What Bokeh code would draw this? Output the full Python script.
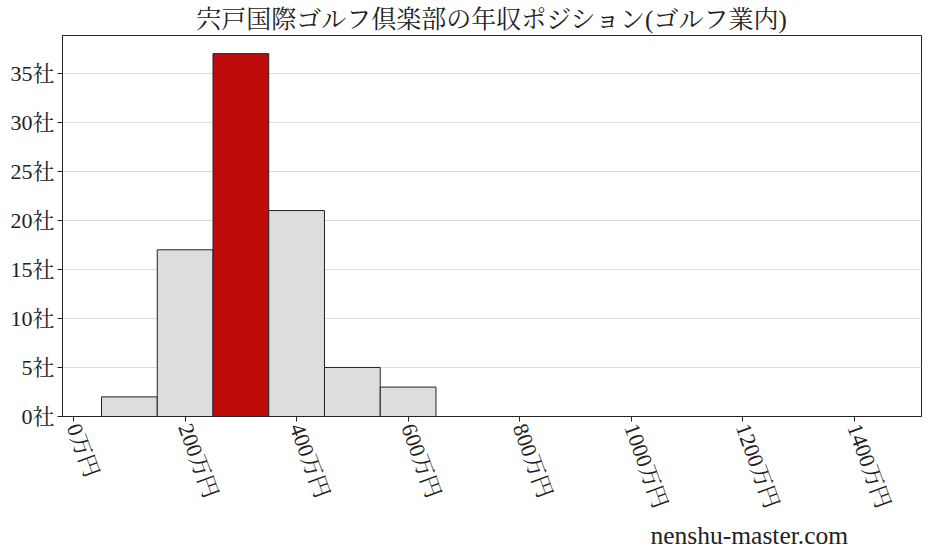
import math
from bokeh.plotting import figure
from bokeh.models import Range1d, FixedTicker, PrintfTickFormatter, Title
from bokeh.embed import file_html
from bokeh.resources import INLINE

# data
bin_centers = [100, 200, 300, 400, 500, 600]
bin_width = 100
counts = [2, 17, 37, 21, 5, 3]
highlight_index = 2
x_ticks = [0, 200, 400, 600, 800, 1000, 1200, 1400]
y_ticks = [0, 5, 10, 15, 20, 25, 30, 35]
title_text = "宍戸国際ゴルフ倶楽部の年収ポジション(ゴルフ業内)"
watermark = "nenshu-master.com"

FONT = "'Liberation Serif', 'Noto Serif CJK JP', 'Noto Sans CJK JP'"

colors = ["#C00B0B" if i == highlight_index else "#DCDDDF" for i in range(len(counts))]

p = figure(width=922, height=549, output_backend="svg", toolbar_location=None,
           x_range=Range1d(-20, 1521), y_range=Range1d(0, 38.85),
           min_border_left=62, min_border_right=1, min_border_bottom=132, min_border_top=0)

p.title.text = title_text
p.title.text_font = FONT
p.title.text_font_size = "25px"
p.title.text_font_style = "normal"
p.title.text_color = "#222222"
p.title.align = "center"
p.title.standoff = 6

p.vbar(x=bin_centers, width=bin_width, top=counts, bottom=0,
       fill_color=colors, line_color="#222222", line_width=1)

p.xgrid.visible = False
p.ygrid.grid_line_color = "#DDDDDD"
p.ygrid.ticker = FixedTicker(ticks=y_ticks)

p.outline_line_color = "#222222"
p.outline_line_width = 1

p.xaxis.ticker = FixedTicker(ticks=x_ticks)
p.yaxis.ticker = FixedTicker(ticks=y_ticks)
p.xaxis.formatter = PrintfTickFormatter(format="%d万円")
p.yaxis.formatter = PrintfTickFormatter(format="%d社")
for ax in (p.xaxis, p.yaxis):
    ax.major_label_text_font = FONT
    ax.major_label_text_font_size = "22px"
    ax.major_label_text_color = "#222222"
    ax.axis_line_color = "#222222"
    ax.major_tick_line_color = "#222222"
    ax.major_tick_out = 5
    ax.major_tick_in = 0
    ax.minor_tick_out = 0
    ax.minor_tick_in = 0
    ax.major_label_standoff = 3
p.xaxis.major_label_orientation = -math.radians(70)

wm = Title(text=watermark, align="left", offset=588, text_font=FONT,
           text_font_size="25.5px", text_font_style="normal", text_color="#222222",
           standoff=0)
p.add_layout(wm, "below")

open("out.html", "w").write(file_html(p, INLINE))
